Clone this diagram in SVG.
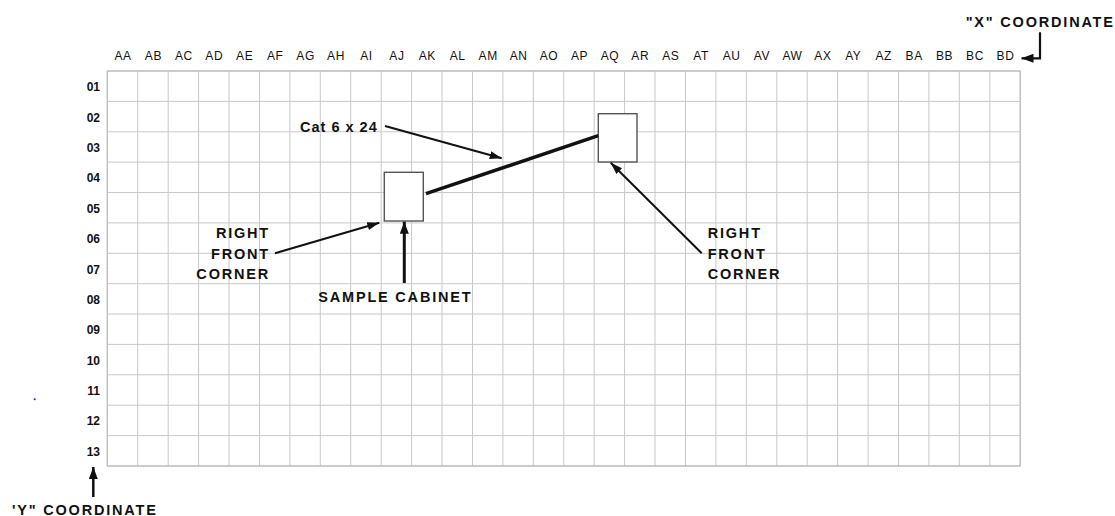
<svg xmlns="http://www.w3.org/2000/svg" width="1115" height="516" viewBox="0 0 1115 516">
<style>
.grid{stroke:#c8c8c8;stroke-width:1;fill:none}
.col{font-family:"Liberation Sans",Arial,sans-serif;font-size:12px;fill:#111;text-anchor:middle;letter-spacing:0.6px}
.row{font-family:"Liberation Sans",Arial,sans-serif;font-size:12px;font-weight:bold;fill:#111;text-anchor:end}
.lbl{font-family:"Liberation Sans",Arial,sans-serif;font-size:14.5px;font-weight:bold;fill:#111;letter-spacing:1.8px}
.cab{fill:#fff;stroke:#555;stroke-width:1.4}
.ln{stroke:#111;fill:none}
</style>
<defs>
<marker id="ah" markerUnits="userSpaceOnUse" viewBox="0 0 12 8" refX="12" refY="4" markerWidth="12" markerHeight="8" orient="auto"><path d="M0,0 L12,4 L0,8 Z" fill="#111"/></marker>
<marker id="ahb" markerUnits="userSpaceOnUse" viewBox="0 0 12 9" refX="12" refY="4.5" markerWidth="12" markerHeight="9" orient="auto"><path d="M0,0 L12,4.5 L0,9 Z" fill="#111"/></marker>
</defs>
<rect width="1115" height="516" fill="#fff"/>
<g id="grid">
<path class="grid" d="M107.3,71V466M137.7,71V466M168.2,71V466M198.6,71V466M229,71V466M259.5,71V466M289.9,71V466M320.3,71V466M350.7,71V466M381.2,71V466M411.6,71V466M442,71V466M472.5,71V466M502.9,71V466M533.3,71V466M563.8,71V466M594.2,71V466M624.6,71V466M655,71V466M685.5,71V466M715.9,71V466M746.3,71V466M776.8,71V466M807.2,71V466M837.6,71V466M868.1,71V466M898.5,71V466M928.9,71V466M959.3,71V466M989.8,71V466M1020.2,71V466"/>
<path class="grid" d="M107.3,71H1020.2M107.3,101.4H1020.2M107.3,131.8H1020.2M107.3,162.1H1020.2M107.3,192.5H1020.2M107.3,222.9H1020.2M107.3,253.3H1020.2M107.3,283.7H1020.2M107.3,314H1020.2M107.3,344.4H1020.2M107.3,374.8H1020.2M107.3,405.2H1020.2M107.3,435.6H1020.2M107.3,466H1020.2"/>
<rect x="107.3" y="71" width="912.9" height="395" fill="none" stroke="#bdbdbd" stroke-width="1.2"/>
</g>
<g id="col-labels">
<text class="col" x="123" y="59.5">AA</text>
<text class="col" x="153.4" y="59.5">AB</text>
<text class="col" x="183.9" y="59.5">AC</text>
<text class="col" x="214.3" y="59.5">AD</text>
<text class="col" x="244.7" y="59.5">AE</text>
<text class="col" x="275.2" y="59.5">AF</text>
<text class="col" x="305.6" y="59.5">AG</text>
<text class="col" x="336" y="59.5">AH</text>
<text class="col" x="366.5" y="59.5">AI</text>
<text class="col" x="396.9" y="59.5">AJ</text>
<text class="col" x="427.3" y="59.5">AK</text>
<text class="col" x="457.7" y="59.5">AL</text>
<text class="col" x="488.2" y="59.5">AM</text>
<text class="col" x="518.6" y="59.5">AN</text>
<text class="col" x="549" y="59.5">AO</text>
<text class="col" x="579.5" y="59.5">AP</text>
<text class="col" x="609.9" y="59.5">AQ</text>
<text class="col" x="640.3" y="59.5">AR</text>
<text class="col" x="670.8" y="59.5">AS</text>
<text class="col" x="701.2" y="59.5">AT</text>
<text class="col" x="731.6" y="59.5">AU</text>
<text class="col" x="762" y="59.5">AV</text>
<text class="col" x="792.5" y="59.5">AW</text>
<text class="col" x="822.9" y="59.5">AX</text>
<text class="col" x="853.3" y="59.5">AY</text>
<text class="col" x="883.8" y="59.5">AZ</text>
<text class="col" x="914.2" y="59.5">BA</text>
<text class="col" x="944.6" y="59.5">BB</text>
<text class="col" x="975" y="59.5">BC</text>
<text class="col" x="1005.5" y="59.5">BD</text>
</g>
<g id="row-labels">
<text class="row" x="100" y="91.2">01</text>
<text class="row" x="100" y="121.6">02</text>
<text class="row" x="100" y="152">03</text>
<text class="row" x="100" y="182.3">04</text>
<text class="row" x="100" y="212.7">05</text>
<text class="row" x="100" y="243.1">06</text>
<text class="row" x="100" y="273.5">07</text>
<text class="row" x="100" y="303.9">08</text>
<text class="row" x="100" y="334.2">09</text>
<text class="row" x="100" y="364.6">10</text>
<text class="row" x="100" y="395">11</text>
<text class="row" x="100" y="425.4">12</text>
<text class="row" x="100" y="455.8">13</text>
</g>
<g id="cabinet-sample"><rect class="cab" x="384.3" y="172.3" width="39" height="48.7"/></g>
<g id="cabinet-aq"><rect class="cab" x="598.3" y="113.7" width="38.7" height="48.3"/></g>
<g id="connectors">
<line class="ln" x1="426" y1="193.7" x2="598.3" y2="135.7" stroke-width="3.5"/>
<line class="ln" x1="385" y1="126" x2="501.7" y2="158.3" stroke-width="2" marker-end="url(#ah)"/>
<line class="ln" x1="275" y1="253.3" x2="379.3" y2="222.7" stroke-width="2" marker-end="url(#ah)"/>
<line class="ln" x1="701.7" y1="253.3" x2="610.7" y2="162.7" stroke-width="2" marker-end="url(#ah)"/>
<line class="ln" x1="404.3" y1="283" x2="404.3" y2="221.7" stroke-width="3" marker-end="url(#ahb)"/>
<polyline class="ln" points="1040,32.3 1040,58.3 1021.5,58.3" stroke-width="2.2" marker-end="url(#ahb)"/>
<line class="ln" x1="93.3" y1="497" x2="93.3" y2="467" stroke-width="2.5" marker-end="url(#ahb)"/>
</g>
<g id="label-cat6"><text class="lbl" x="300" y="131.7" style="letter-spacing:1px">Cat 6 x 24</text></g>
<g id="label-rfc-left">
<text class="lbl" x="270" y="238.3" text-anchor="end">RIGHT</text>
<text class="lbl" x="270" y="259" text-anchor="end">FRONT</text>
<text class="lbl" x="270" y="279.3" text-anchor="end">CORNER</text>
</g>
<g id="label-rfc-right">
<text class="lbl" x="707.7" y="237.7">RIGHT</text>
<text class="lbl" x="707.7" y="259">FRONT</text>
<text class="lbl" x="707.7" y="279">CORNER</text>
</g>
<g id="label-sample"><text class="lbl" x="318.3" y="301.7">SAMPLE CABINET</text></g>
<g id="label-x"><text class="lbl" x="965.7" y="26.7">"X" COORDINATE</text></g>
<g id="label-y"><text class="lbl" x="12" y="514.5">'Y" COORDINATE</text></g>
<circle cx="34.7" cy="399.3" r="1" fill="#1a1aff"/>
</svg>
